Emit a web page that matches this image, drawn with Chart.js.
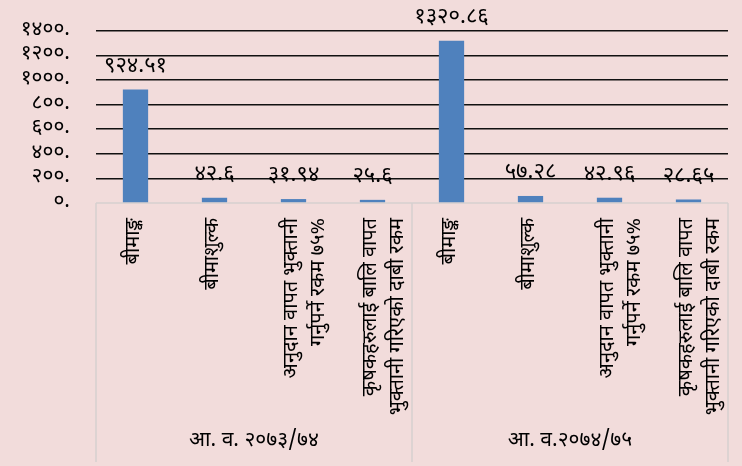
<!DOCTYPE html>
<html><head><meta charset="utf-8">
<script src="https://cdn.jsdelivr.net/npm/chart.js@4.4.1/dist/chart.umd.min.js"></script>
<style>html,body{margin:0;padding:0;background:#f2dcdb;}#wrap{width:742px;height:466px;position:relative;}</style>
</head><body><div id="wrap"><canvas id="c"></canvas></div>
<script>
const categories = [
  ["बीमाङ्क"],
  ["बीमाशुल्क"],
  ["अनुदान वापत भुक्तानी", "गर्नुपर्ने रकम ७५%"],
  ["कृषकहरुलाई बालि वापत", "भुक्तानी गरिएको दाबी रकम"],
  ["बीमाङ्क"],
  ["बीमाशुल्क"],
  ["अनुदान वापत भुक्तानी", "गर्नुपर्ने रकम ७५%"],
  ["कृषकहरुलाई बालि वापत", "भुक्तानी गरिएको दाबी रकम"]
];
const groups = ["आ. व. २०७३/७४", "आ. व.२०७४/७५"];
const groupSize = 4;
const values = [924.51, 42.6, 31.94, 25.6, 1320.86, 57.28, 42.96, 28.65];
const valueLabels = ["९२४.५१", "४२.६", "३१.९४", "२५.६", "१३२०.८६", "५७.२८", "४२.९६", "२८.६५"];
const yMin = 0, yMax = 1400, yStep = 200;

const devDigits = "०१२३४५६७८९";
function toDev(n){ return String(n).replace(/[0-9]/g, d => devDigits[+d]); }

const FONT = "'Noto Sans Devanagari', 'Lohit Devanagari', 'Noto Sans', 'FreeSans', sans-serif";
Chart.defaults.font.family = FONT;
Chart.defaults.color = '#000';

const framePlugin = {
  id: 'frame',
  beforeDraw(chart){
    const ctx = chart.ctx;
    ctx.save();
    ctx.fillStyle = '#f2dcdb';
    ctx.fillRect(0, 0, chart.width, chart.height);
    ctx.restore();
  },
  beforeDatasetsDraw(chart){
    const {ctx, chartArea, scales} = chart;
    const x = scales.x;
    const bottom = chartArea.bottom;
    ctx.save();
    ctx.strokeStyle = '#d6d0d0';
    ctx.lineWidth = 1.5;
    ctx.beginPath();
    ctx.moveTo(chartArea.left, bottom); ctx.lineTo(chartArea.right, bottom);
    const step = (x.getPixelForValue(1) - x.getPixelForValue(0));
    const bounds = [];
    for (let g = 0; g <= groups.length; g++) {
      const idx = g * groupSize;
      bounds.push(x.getPixelForValue(0) - step/2 + idx * step);
    }
    bounds.forEach(bx => { ctx.moveTo(bx, bottom); ctx.lineTo(bx, chart.height - 4); });
    ctx.stroke();
    ctx.fillStyle = '#000';
    ctx.font = "21px " + FONT;
    ctx.textAlign = 'center';
    ctx.textBaseline = 'middle';
    groups.forEach((g, i) => {
      ctx.fillText(g, (bounds[i] + bounds[i+1]) / 2, chart.height - 24);
    });
    ctx.restore();
  },
  afterDatasetsDraw(chart){
    const {ctx} = chart;
    const meta = chart.getDatasetMeta(0);
    ctx.save();
    ctx.fillStyle = '#000';
    ctx.font = "22px " + FONT;
    ctx.textAlign = 'center';
    ctx.textBaseline = 'bottom';
    meta.data.forEach((bar, i) => {
      ctx.fillText(valueLabels[i], bar.x, bar.y - 11);
    });
    ctx.restore();
  }
};

new Chart(document.getElementById('c'), {
  type: 'bar',
  data: {
    labels: categories,
    datasets: [{ data: values, backgroundColor: '#4f81bd', barPercentage: 0.32, categoryPercentage: 1 }]
  },
  options: {
    responsive: true,
    maintainAspectRatio: false,
    animation: false,
    layout: { padding: { top: 31, right: 14, left: 0, bottom: 0 } },
    plugins: { legend: { display: false }, tooltip: { enabled: false } },
    scales: {
      y: {
        min: yMin, max: yMax,
        border: { display: false },
        grid: {
          drawTicks: false,
          lineWidth: 1.6,
          color: ctx => ctx.tick && ctx.tick.value === 0 ? 'rgba(0,0,0,0)' : '#111'
        },
        ticks: {
          stepSize: yStep,
          autoSkip: false,
          padding: 26,
          font: { size: 21, lineHeight: 1 },
          callback: v => toDev(v) + '.'
        },
        afterFit: s => { s.width = 96; s.paddingTop = 0; s.paddingBottom = 0; }
      },
      x: {
        border: { display: false },
        grid: { display: false, drawTicks: false },
        ticks: {
          autoSkip: false,
          maxRotation: 90, minRotation: 90,
          padding: 15,
          font: { size: 20, lineHeight: 1.35 }
        },
        afterFit: s => { s.height = 263; s.paddingLeft = 0; s.paddingRight = 0; }
      }
    }
  },
  plugins: [framePlugin]
});
</script></body></html>
